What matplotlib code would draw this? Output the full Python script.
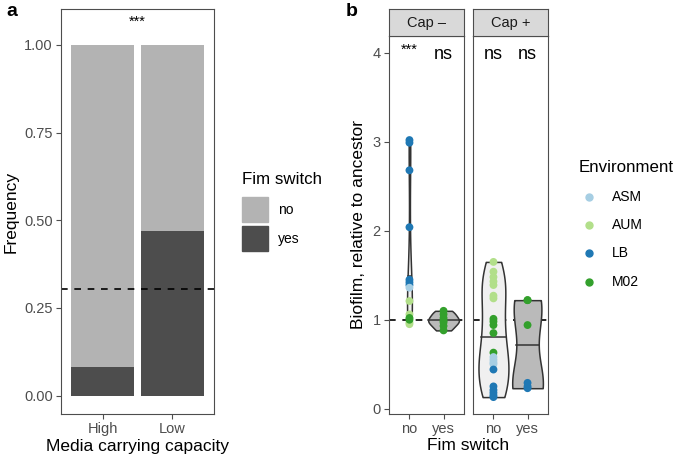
import numpy as np
import matplotlib
matplotlib.use("Agg")
import matplotlib.pyplot as plt
from matplotlib.patches import Rectangle
from matplotlib.lines import Line2D

plt.rcParams['font.family'] = ['Liberation Sans', 'DejaVu Sans']

# panel a: frequency of fim switch by media capacity
capacity = ["High", "Low"]
freq_yes = [0.082, 0.469]
freq_no = [1 - v for v in freq_yes]
freq_ref = 0.304

# panel b: biofilm relative to ancestor, per facet / fim switch
env_colors = {"ASM": "#a6cee3", "AUM": "#b2df8a", "LB": "#1f78b4", "M02": "#33a02c"}
fim = ["no", "yes"]
facets = ["Cap \u2013", "Cap +"]
capm_no_env = ["LB", "LB", "LB", "LB", "LB", "LB", "LB", "ASM", "AUM", "AUM", "AUM", "AUM", "M02", "M02"]
capm_no_val = [3.02, 2.99, 2.68, 2.04, 1.45, 1.42, 1.39, 1.36, 1.21, 1.06, 0.97, 0.95, 1.00, 1.02]
capm_yes_env = ["M02"] * 7
capm_yes_val = [1.10, 1.06, 1.02, 0.99, 0.97, 0.93, 0.88]
capp_no_env = ["AUM"] * 7 + ["M02"] * 5 + ["ASM"] * 4 + ["LB"] * 6
capp_no_val = [1.65, 1.54, 1.48, 1.43, 1.39, 1.27, 1.24,
               1.01, 0.98, 0.94, 0.85, 0.63,
               0.58, 0.55, 0.52, 0.50,
               0.44, 0.25, 0.21, 0.18, 0.15, 0.13]
capp_yes_env = ["M02", "M02", "M02", "LB", "LB", "LB"]
capp_yes_val = [1.22, 1.22, 0.94, 0.29, 0.25, 0.23]
signif = [["***", "ns"], ["ns", "ns"]]

bar_no, bar_yes = "#b3b3b3", "#4d4d4d"
vio_fill = {"no": "#f0f0f0", "yes": "#bababa"}
border = "#4d4d4d"
tickcol = "#4d4d4d"
W, H = 675, 462


def kde(vals):
    v = np.array(vals)
    n = len(v)
    sd = v.std(ddof=1)
    iqr = np.subtract(*np.percentile(v, [75, 25]))
    lo = min(sd, iqr / 1.34) if iqr > 0 else sd
    bw = 0.9 * lo * n ** -0.2
    grid = np.linspace(v.min(), v.max(), 512)
    dens = np.exp(-0.5 * ((grid[:, None] - v[None, :]) / bw) ** 2).sum(1) / (n * bw * np.sqrt(2 * np.pi))
    return grid, dens


def style(ax):
    for s in ax.spines.values():
        s.set_color(border)
        s.set_linewidth(0.8)
    ax.tick_params(colors=tickcol, labelcolor=tickcol, labelsize=10.5, length=3.5, width=0.8, pad=2.5)


def box(x0, y0, x1, y1):
    return [x0 / W, 1 - y1 / H, (x1 - x0) / W, (y1 - y0) / H]


fig = plt.figure(figsize=(6.75, 4.62), dpi=100)

# ---- panel a
axa = fig.add_axes(box(61, 9, 214, 414))
xs = np.arange(1, len(capacity) + 1)
axa.bar(xs, freq_yes, width=0.9, color=bar_yes)
axa.bar(xs, freq_no, bottom=freq_yes, width=0.9, color=bar_no)
axa.axhline(freq_ref, color="black", ls=(0, (4, 4)), lw=1.2)
axa.text(1.5, 1.065, "***", ha="center", va="center", fontsize=10.5)
axa.set_xlim(0.4, 2.6)
axa.set_ylim(-0.0525, 1.1025)
axa.set_xticks(xs, capacity)
axa.set_yticks([0, 0.25, 0.5, 0.75, 1.0], ["0.00", "0.25", "0.50", "0.75", "1.00"])
axa.set_ylabel("Frequency", fontsize=12.5)
axa.yaxis.set_label_coords((4 - 61) / 153, 0.5)
axa.yaxis.label.set_va("top")
axa.set_xlabel("Media carrying capacity", fontsize=12.5, labelpad=2)
style(axa)
fig.text(6 / W, 1 - 12 / H, "a", fontsize=14, fontweight="bold", va="center")

# legend a, drawn by hand
fig.text(242 / W, 1 - 180 / H, "Fim switch", fontsize=12.2, va="center")
for i, (lab, col) in enumerate([("no", bar_no), ("yes", bar_yes)]):
    y0 = 197 + i * 29
    fig.add_artist(Rectangle((242 / W, 1 - (y0 + 25) / H), 26 / W, 25 / H, color=col,
                             transform=fig.transFigure))
    fig.text(278 / W, 1 - (y0 + 12.5) / H, lab, fontsize=10, va="center")

# ---- panel b
data = [[(capm_no_val, capm_no_env), (capm_yes_val, capm_yes_env)],
        [(capp_no_val, capp_no_env), (capp_yes_val, capp_yes_env)]]
lefts = [389, 473]
for fi, facet in enumerate(facets):
    ax = fig.add_axes(box(lefts[fi], 36, lefts[fi] + 75, 414))
    sax = fig.add_axes(box(lefts[fi], 9, lefts[fi] + 75, 36))
    sax.set_facecolor("#d9d9d9")
    sax.set_xticks([])
    sax.set_yticks([])
    for s in sax.spines.values():
        s.set_color(border)
        s.set_linewidth(0.8)
    sax.text(0.5, 0.5, facet, ha="center", va="center", fontsize=10.5, color="#1a1a1a",
             transform=sax.transAxes)

    ax.axhline(1, color="black", ls=(0, (4, 4)), lw=1.2, zorder=1)
    kd = [kde(vals) for vals, _ in data[fi]]
    dmax = max(d.max() for _, d in kd)
    for gi, (grid, dens) in enumerate(kd):
        x0 = gi + 1
        w = dens / dmax * 0.45
        ax.fill_betweenx(grid, x0 - w, x0 + w, facecolor=vio_fill[fim[gi]], edgecolor="#333333",
                         lw=1.1, zorder=2)
        cdf = np.cumsum(dens)
        cdf = cdf / cdf[-1]
        k = np.searchsorted(cdf, 0.5)
        ax.plot([x0 - w[k], x0 + w[k]], [grid[k], grid[k]], color="#333333", lw=1.1, zorder=3)
        vals, envs = data[fi][gi]
        ax.scatter([x0] * len(vals), vals, c=[env_colors[e] for e in envs], s=32, zorder=4,
                   linewidths=0)
        txt = signif[fi][gi]
        if txt == "***":
            ax.text(x0, 4.03, txt, ha="center", va="center", fontsize=10.5)
        else:
            ax.text(x0, 3.98, txt, ha="center", va="center", fontsize=13)
    ax.set_xlim(0.4, 2.6)
    ax.set_ylim(-0.06, 4.19)
    ax.set_xticks([1, 2], fim)
    style(ax)
    if fi == 0:
        ax.set_yticks([0, 1, 2, 3, 4])
        ax.set_ylabel("Biofilm, relative to ancestor", fontsize=12.5)
        ax.yaxis.set_label_coords((351 - 389) / 75, 0.5)
        ax.yaxis.label.set_va("top")
    else:
        ax.set_yticks([])

fig.text(468 / W, 1 - 446 / H, "Fim switch", ha="center", va="center", fontsize=12.5)
fig.text(346 / W, 1 - 12 / H, "b", fontsize=14, fontweight="bold", va="center")

# legend b, drawn by hand
fig.text(579 / W, 1 - 167 / H, "Environment", fontsize=12.2, va="center")
for i, (lab, col) in enumerate(env_colors.items()):
    yc = 197 + i * 28.2
    fig.add_artist(Line2D([589 / W], [1 - yc / H], ls="", marker="o", ms=5, color=col,
                          transform=fig.transFigure))
    fig.text(612 / W, 1 - yc / H, lab, fontsize=10, va="center")

fig.savefig("out.png", dpi=100)
